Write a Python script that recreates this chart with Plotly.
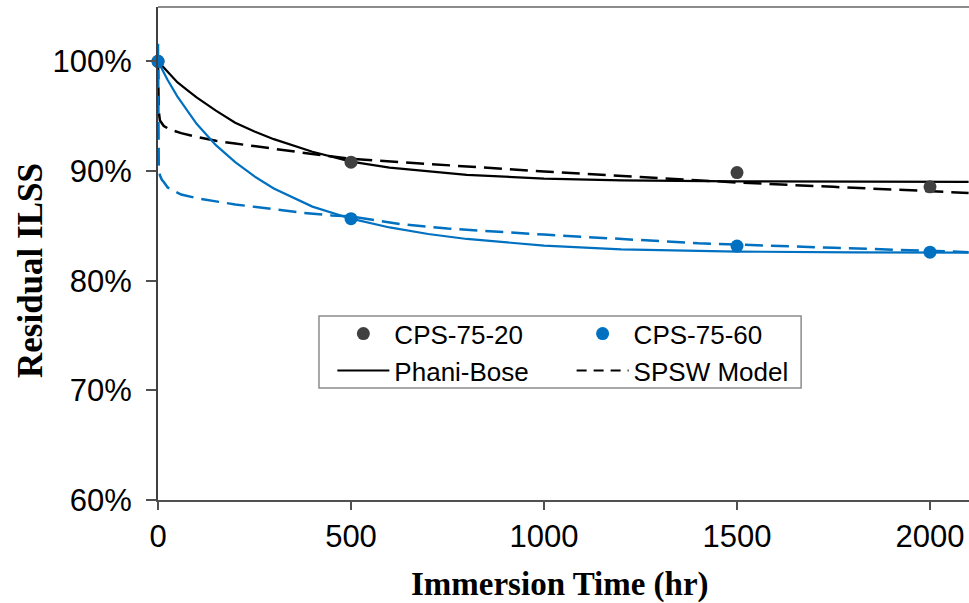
import plotly.graph_objects as go

# Measured data (Residual ILSS, %)
t_points = [0, 500, 1500, 2000]
cps20_points = [100, 90.8, 89.85, 88.55]
cps60_points = [100, 85.65, 83.15, 82.6]

# Phani-Bose model curves
pb_t = [0, 25, 50, 75, 100, 150, 200, 250, 300, 400, 500, 600, 700, 800, 1000, 1200, 1500, 1800, 2100]
pb_20 = [100, 99.0, 98.1, 97.4, 96.7, 95.5, 94.4, 93.6, 92.9, 91.75, 90.85, 90.3, 89.95, 89.65, 89.3, 89.15, 89.05, 89.02, 89.0]
pb_60 = [100, 98.3, 96.8, 95.5, 94.3, 92.35, 90.8, 89.5, 88.4, 86.75, 85.65, 84.85, 84.25, 83.8, 83.2, 82.85, 82.65, 82.58, 82.55]

# SPSW model curves
sp_t20 = [0, 1, 2, 5, 15, 30, 60, 100, 150, 200, 300, 400, 500, 630, 750, 1000, 1250, 1500, 1750, 2000, 2100]
sp_20 = [100, 96.5, 95.4, 94.6, 94.1, 93.8, 93.45, 93.1, 92.75, 92.5, 92.0, 91.55, 91.1, 90.8, 90.5, 89.95, 89.45, 88.95, 88.55, 88.15, 88.0]
sp_t60 = [0, 1, 2, 5, 10, 15, 25, 60, 110, 200, 280, 370, 450, 500, 630, 750, 1000, 1400, 1750, 2000, 2100]
sp_60 = [101.6, 92.5, 90.5, 89.6, 89.2, 89.0, 88.5, 87.85, 87.45, 86.95, 86.6, 86.2, 85.95, 85.85, 85.15, 84.75, 84.2, 83.4, 83.0, 82.72, 82.6]

x_ticks = [0, 500, 1000, 1500, 2000]
y_ticks = [60, 70, 80, 90, 100]
y_ticklabels = ["60%", "70%", "80%", "90%", "100%"]

BLACK = "#000000"
DARK = "#404040"
BLUE = "#0070C0"

fig = go.Figure()

# model lines
fig.add_trace(go.Scatter(x=sp_t20, y=sp_20, mode="lines", line=dict(color=BLACK, width=2.5, dash="18px,8px"), showlegend=False))
fig.add_trace(go.Scatter(x=sp_t60, y=sp_60, mode="lines", line=dict(color=BLUE, width=2.5, dash="18px,8px"), showlegend=False))
fig.add_trace(go.Scatter(x=pb_t, y=pb_20, mode="lines", line=dict(color=BLACK, width=2.2), showlegend=False))
fig.add_trace(go.Scatter(x=pb_t, y=pb_60, mode="lines", line=dict(color=BLUE, width=2.2), showlegend=False))

# points
fig.add_trace(go.Scatter(x=t_points, y=cps20_points, mode="markers", name="CPS-75-20",
                         marker=dict(color=DARK, size=13), cliponaxis=False, legend="legend"))
fig.add_trace(go.Scatter(x=t_points, y=cps60_points, mode="markers", name="CPS-75-60",
                         marker=dict(color=BLUE, size=13), cliponaxis=False, legend="legend2"))

# legend-only line entries
fig.add_trace(go.Scatter(x=[None], y=[None], mode="lines", name="Phani-Bose",
                         line=dict(color=BLACK, width=2), legend="legend"))
fig.add_trace(go.Scatter(x=[None], y=[None], mode="lines", name="SPSW Model",
                         line=dict(color=BLACK, width=2, dash="10px,7px"), legend="legend2"))

legend_font = dict(family="Liberation Sans, Arial, sans-serif", size=26, color="#000000")
tick_font = dict(family="Liberation Sans, Arial, sans-serif", size=31, color="#000000")
title_font_family = "Liberation Serif, Times New Roman, serif"

fig.update_layout(
    width=969, height=603,
    margin=dict(l=158, r=0, t=7, b=103),
    paper_bgcolor="white", plot_bgcolor="white",
    xaxis=dict(
        range=[0, 2101], tickvals=x_ticks, showgrid=False, zeroline=False, automargin=False,
        showline=True, linecolor="#505050", linewidth=2,
        ticks="outside", ticklen=8, tickcolor="#505050", tickwidth=1.5,
        tickfont=tick_font,
    ),
    yaxis=dict(
        range=[60, 104.95], tickvals=y_ticks, ticktext=y_ticklabels, showgrid=False, zeroline=False,
        automargin=False, showline=True, linecolor="#404040", linewidth=2,
        ticks="outside", ticklen=10, tickcolor="#505050", tickwidth=1.5,
        tickfont=tick_font, ticklabelstandoff=8,
    ),
    legend=dict(x=0.215, y=0.385, xanchor="left", yanchor="top", bgcolor="rgba(0,0,0,0)",
                font=legend_font, borderwidth=0, itemwidth=52),
    legend2=dict(x=0.51, y=0.385, xanchor="left", yanchor="top", bgcolor="rgba(0,0,0,0)",
                 font=legend_font, borderwidth=0, itemwidth=52),
    annotations=[
        dict(text="<b>Immersion Time (hr)</b>", xref="paper", yref="paper", x=0.4957, y=-0.1724,
             xanchor="center", yanchor="middle", showarrow=False,
             font=dict(family=title_font_family, size=33, color="#000000")),
        dict(text="<b>Residual ILSS</b>", xref="paper", yref="paper", x=-0.1578, y=0.4645,
             xanchor="center", yanchor="middle", showarrow=False, textangle=-90,
             font=dict(family=title_font_family, size=35, color="#000000")),
    ],
    shapes=[
        # top border of plot area
        dict(type="line", xref="paper", yref="paper", x0=0, x1=1, y0=1, y1=1,
             line=dict(color="#8C8C8C", width=2)),
        # legend box
        dict(type="rect", xref="paper", yref="paper", x0=0.1985, x1=0.793, y0=0.2272, y1=0.3732,
             line=dict(color="#8C8C8C", width=1.5), fillcolor="white", layer="above"),
    ],
)

fig.write_html(
    "out.html",
    config={"displayModeBar": False},
    post_script="document.body.style.margin='0';document.body.style.padding='0';document.body.style.overflow='hidden';",
)
